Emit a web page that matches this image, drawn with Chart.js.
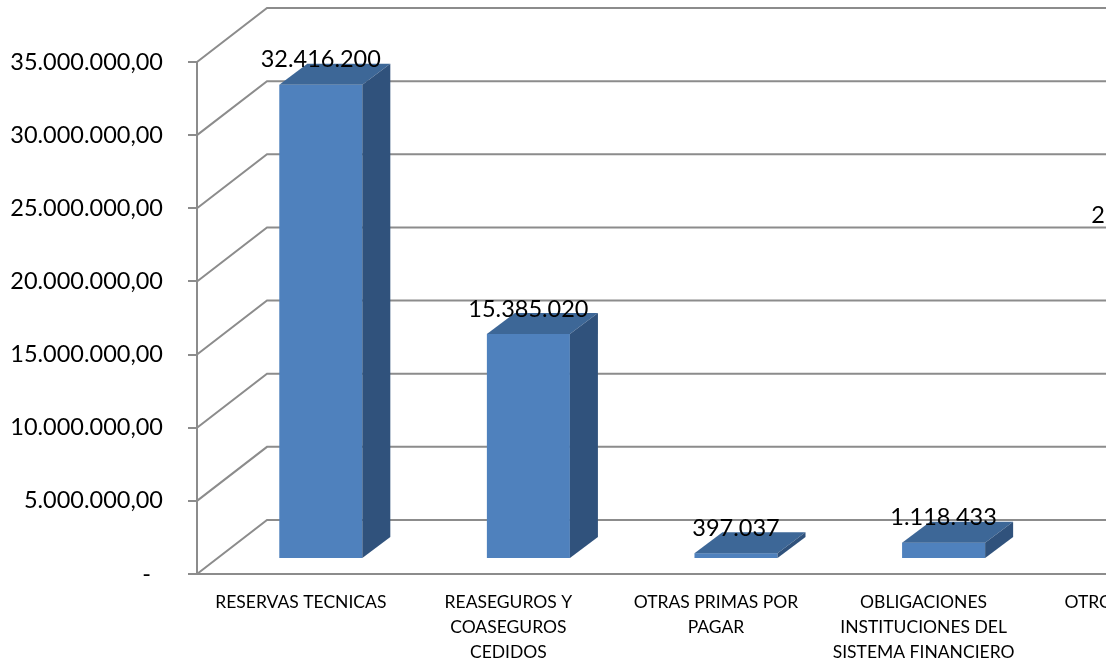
<!DOCTYPE html>
<html>
<head>
<meta charset="utf-8">
<script src="https://cdn.jsdelivr.net/npm/chart.js@4/dist/chart.umd.min.js"></script>
<style>
  html, body { margin: 0; padding: 0; background: #fff; }
  #wrap { width: 1106px; height: 667px; overflow: hidden; }
</style>
</head>
<body>
<div id="wrap"><canvas id="chart" width="1300" height="667"></canvas></div>
<script>
// Datos del gráfico
const categorias = [
  "RESERVAS TECNICAS",
  ["REASEGUROS Y", "COASEGUROS", "CEDIDOS"],
  ["OTRAS PRIMAS POR", "PAGAR"],
  ["OBLIGACIONES", "INSTITUCIONES DEL", "SISTEMA FINANCIERO"],
  ["OTROS PASIVOS"]
];
const valores = [32416200, 15385020, 397037, 1118433, 21800000];
const ejeMin = 0;
const ejeMax = 35000000;
const ejePaso = 5000000;

const fuente = "Lato, 'Open Sans', sans-serif";
const grisLinea = "#8c8c8c";

// Formato con puntos de miles
function miles(v) {
  return String(Math.round(v)).replace(/\B(?=(\d{3})+(?!\d))/g, ".");
}

// Profundidad de la pared y de las barras
const PARED_X = 70, PARED_Y = 54;
const BARRA_DX = 20, BARRA_DY = 15;
const FONDO_X = 28, FONDO_Y = 21;

// Plugin para dibujar el efecto 3D
const efecto3D = {
  id: "efecto3D",
  beforeDatasetsDraw(chart) {
    const { ctx, chartArea, scales } = chart;
    const y = scales.y;
    ctx.save();
    ctx.strokeStyle = grisLinea;
    ctx.lineWidth = 2;
    y.ticks.forEach(t => {
      const py = y.getPixelForValue(t.value);
      ctx.beginPath();
      ctx.moveTo(chartArea.left, py);
      ctx.lineTo(chartArea.left + PARED_X, py - PARED_Y);
      ctx.lineTo(chartArea.right + PARED_X, py - PARED_Y);
      ctx.stroke();
    });
    ctx.restore();
  },
  afterDatasetsDraw(chart) {
    const { ctx } = chart;
    const meta = chart.getDatasetMeta(0);
    ctx.save();
    meta.data.forEach((bar, i) => {
      const { x, y, base, width } = bar.getProps(["x", "y", "base", "width"], true);
      const izq = x - width / 2 + BARRA_DX;
      const der = izq + width;
      const arriba = y - BARRA_DY;
      const abajo = base - BARRA_DY;
      // cara frontal
      ctx.fillStyle = "#4f81bd";
      ctx.fillRect(izq, arriba, width, abajo - arriba);
      // cara superior
      ctx.fillStyle = "#3d6797";
      ctx.beginPath();
      ctx.moveTo(izq, arriba);
      ctx.lineTo(izq + FONDO_X, arriba - FONDO_Y);
      ctx.lineTo(der + FONDO_X, arriba - FONDO_Y);
      ctx.lineTo(der, arriba);
      ctx.closePath();
      ctx.fill();
      // cara lateral
      ctx.fillStyle = "#30527c";
      ctx.beginPath();
      ctx.moveTo(der, arriba);
      ctx.lineTo(der + FONDO_X, arriba - FONDO_Y);
      ctx.lineTo(der + FONDO_X, abajo - FONDO_Y);
      ctx.lineTo(der, abajo);
      ctx.closePath();
      ctx.fill();
      // etiqueta de valor
      ctx.fillStyle = "#000";
      ctx.font = "23.5px " + fuente;
      ctx.textAlign = "center";
      ctx.textBaseline = "middle";
      ctx.fillText(miles(valores[i]), x + BARRA_DX, arriba - 25);
    });
    ctx.restore();
  }
};

new Chart(document.getElementById("chart"), {
  type: "bar",
  data: {
    labels: categorias,
    datasets: [{
      data: valores,
      backgroundColor: "rgba(0,0,0,0)",
      borderWidth: 0,
      barPercentage: 0.4,
      categoryPercentage: 1.0
    }]
  },
  options: {
    responsive: false,
    animation: false,
    layout: { padding: { top: 62, right: 65, left: 0, bottom: 0 } },
    plugins: {
      legend: { display: false },
      tooltip: { enabled: false }
    },
    scales: {
      x: {
        grid: { display: false, drawTicks: false },
        border: { display: true, color: grisLinea, width: 2 },
        ticks: {
          color: "#000",
          font: { family: fuente, size: 17.5, lineHeight: 25 / 17.5 },
          padding: 16,
          maxRotation: 0,
          autoSkip: false
        },
        afterFit(scale) { scale.height = 93; }
      },
      y: {
        min: ejeMin,
        max: ejeMax,
        grid: {
          display: true,
          drawOnChartArea: false,
          drawTicks: true,
          tickLength: 9,
          color: grisLinea,
          lineWidth: 2
        },
        border: { display: true, color: grisLinea, width: 2 },
        ticks: {
          stepSize: ejePaso,
          color: "#000",
          font: { family: fuente, size: 23.5 },
          padding: 25,
          callback: v => v === 0 ? "-  " : miles(v) + ",00"
        },
        afterFit(scale) { scale.width = 197; }
      }
    }
  },
  plugins: [efecto3D]
});
</script>
</body>
</html>
